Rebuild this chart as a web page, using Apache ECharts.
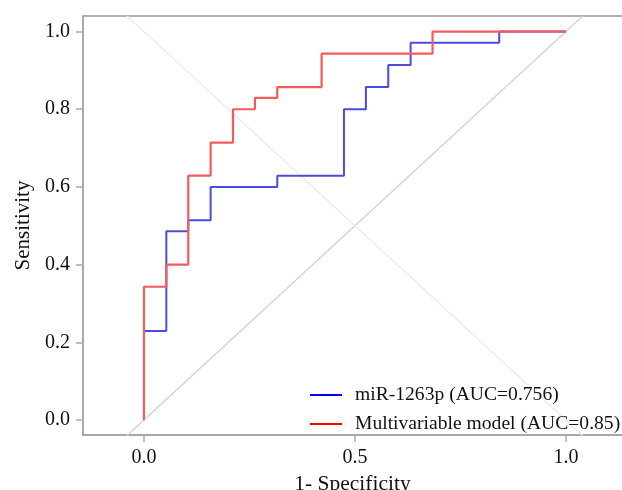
<!DOCTYPE html>
<html>
<head>
<meta charset="utf-8">
<script src="https://cdn.jsdelivr.net/npm/echarts@6/dist/echarts.min.js"></script>
<style>html,body{margin:0;padding:0;background:#fff;}#c{width:622px;height:490px;}</style>
</head>
<body>
<div id="c"></div>
<script>
// ROC step points (1 - specificity, sensitivity)
var mirFpr = [0, 0, 0.053, 0.105, 0.158, 0.316, 0.474, 0.526, 0.579, 0.632, 0.842, 1.0];
var mirTpr = [0, 0.229, 0.486, 0.514, 0.600, 0.629, 0.800, 0.857, 0.914, 0.971, 1.0, 1.0];
var mvFpr = [0, 0, 0.053, 0.105, 0.158, 0.211, 0.263, 0.316, 0.421, 0.684, 1.0];
var mvTpr = [0, 0.343, 0.400, 0.629, 0.714, 0.800, 0.829, 0.857, 0.943, 1.0, 1.0];
var seriesNames = ['miR-1263p (AUC=0.756)', 'Multivariable model (AUC=0.85)'];
var xTicks = [0, 0.5, 1.0];
var yTicks = [0, 0.2, 0.4, 0.6, 0.8, 1.0];
var refUpX = [-0.04, 1.04];
var refUpY = [-0.04, 1.04];
var refDownX = [-0.04, 1.04];
var refDownY = [1.04, -0.04];

function pairs(xs, ys) { return xs.map(function (x, i) { return [x, ys[i]]; }); }

var font = 'Liberation Serif';
var axisGray = '#8c8c8c';
var chart = echarts.init(document.getElementById('c'), null, { renderer: 'canvas' });
chart.setOption({
  animation: false,
  backgroundColor: '#ffffff',
  textStyle: { fontFamily: font },
  grid: { left: 83, right: 0, top: 16, bottom: 55, containLabel: false, outerBoundsMode: 'none' },
  xAxis: [{
    type: 'value', min: -0.1445, max: 1.133,
    name: '1- Specificity', nameLocation: 'middle', nameGap: 34,
    nameTextStyle: { fontFamily: font, fontSize: 21.5, color: '#111' },
    axisLine: { show: true, onZero: false, lineStyle: { color: axisGray, width: 1.5 } },
    axisTick: { show: true, customValues: xTicks, length: 7, lineStyle: { color: '#aaa', width: 1.5 } },
    axisLabel: { customValues: xTicks, margin: 13, fontFamily: font, fontSize: 20, color: '#111',
      formatter: function (v) { return v.toFixed(1); } },
    splitLine: { show: false }
  }, {
    type: 'value', position: 'top', min: -0.1445, max: 1.133,
    axisLine: { show: true, onZero: false, lineStyle: { color: '#999', width: 1.5 } },
    axisTick: { show: false }, axisLabel: { show: false }, splitLine: { show: false }
  }],
  yAxis: {
    type: 'value', min: -0.0386, max: 1.04,
    name: 'Sensitivity', nameLocation: 'middle', nameGap: 48,
    nameTextStyle: { fontFamily: font, fontSize: 21, color: '#111' },
    axisLine: { show: true, onZero: false, lineStyle: { color: axisGray, width: 1.5 } },
    axisTick: { show: true, customValues: yTicks, length: 7, lineStyle: { color: '#aaa', width: 1.5 } },
    axisLabel: { customValues: yTicks, margin: 13, fontFamily: font, fontSize: 20, color: '#111',
      formatter: function (v) { return v.toFixed(1); } },
    splitLine: { show: false }
  },
  legend: {
    orient: 'vertical', left: 310, top: 385, itemGap: 9, padding: 0,
    itemWidth: 32, itemHeight: 2, icon: 'rect',
    textStyle: { fontFamily: font, fontSize: 19.6, color: '#111', lineHeight: 20, padding: [0, 0, 0, 8] },
    data: [
      { name: seriesNames[0], itemStyle: { color: '#0000ff' } },
      { name: seriesNames[1], itemStyle: { color: '#ff0000' } }
    ]
  },
  series: [
    { type: 'line', silent: true, showSymbol: false, symbol: 'none', clip: true,
      data: pairs(refUpX, refUpY), lineStyle: { color: '#d4d4d4', width: 1.5 } },
    { type: 'line', silent: true, showSymbol: false, symbol: 'none', clip: true,
      data: pairs(refDownX, refDownY), lineStyle: { color: '#ececec', width: 1.5 } },
    { name: seriesNames[0], type: 'line', step: 'end', showSymbol: false, symbol: 'none',
      color: '#0000ff', data: pairs(mirFpr, mirTpr), lineStyle: { color: '#4b4be0', width: 2 } },
    { name: seriesNames[1], type: 'line', step: 'end', showSymbol: false, symbol: 'none',
      color: '#ff0000', data: pairs(mvFpr, mvTpr), lineStyle: { color: '#f25c5c', width: 2.2 } }
  ]
});
</script>
</body>
</html>
